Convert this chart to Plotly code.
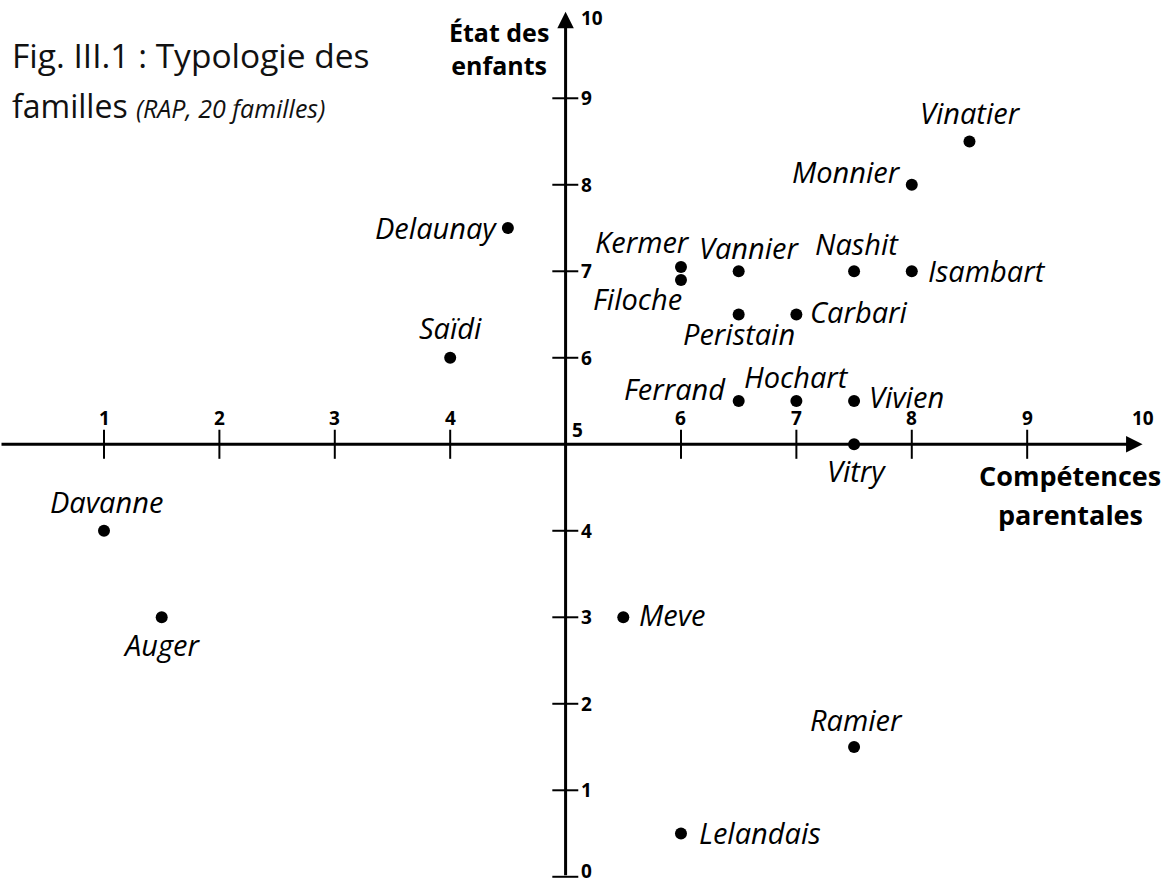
import plotly.graph_objects as go

# ---- data ----
families = ["Vinatier", "Monnier", "Delaunay", "Kermer", "Filoche", "Vannier", "Nashit",
            "Isambart", "Peristain", "Carbari", "Saïdi", "Ferrand", "Hochart", "Vivien",
            "Vitry", "Davanne", "Auger", "Meve", "Ramier", "Lelandais"]
competences = [8.5, 8.0, 4.5, 6.0, 6.0, 6.5, 7.5, 8.0, 6.5, 7.0, 4.0, 6.5, 7.0, 7.5,
               7.5, 1.0, 1.5, 5.5, 7.5, 6.0]
etat = [8.5, 8.0, 7.5, 7.05, 6.9, 7.0, 7.0, 7.0, 6.5, 6.5, 6.0, 5.5, 5.5, 5.5,
        5.0, 4.0, 3.0, 3.0, 1.5, 0.5]
x_ticks = [1, 2, 3, 4, 6, 7, 8, 9]
y_ticks = [0, 1, 2, 3, 4, 6, 7, 8, 9]
x_tick_labels = ["1", "2", "3", "4", "6", "7", "8", "9", "10"]
y_tick_labels = ["0", "1", "2", "3", "4", "6", "7", "8", "9", "10"]

# ---- label placement (anchor, dx px, dy px downward) ----
label_pos = {
    "Vinatier": ("center", 1, -29), "Monnier": ("right", -9, -13),
    "Delaunay": ("right", -9, -1), "Kermer": ("center", -38, -25),
    "Filoche": ("center", -43, 19), "Vannier": ("center", 11, -24),
    "Nashit": ("center", 3, -28), "Isambart": ("left", 14, -1),
    "Peristain": ("center", 0, 19), "Carbari": ("left", 12, -3),
    "Saïdi": ("center", 0, -30), "Ferrand": ("right", -11, -13),
    "Hochart": ("center", 0, -25), "Vivien": ("left", 13, -5),
    "Vitry": ("center", 2, 26), "Davanne": ("center", 2, -29),
    "Auger": ("center", 0, 27), "Meve": ("left", 14, -3),
    "Ramier": ("center", 2, -28), "Lelandais": ("left", 16, -1),
}

FONT = "'Open Sans', 'Noto Sans', sans-serif"
W, H = 1169, 885
XR = [0.0988, 10.229]
YR = [-0.095, 10.136]
ORIGIN = 5

fig = go.Figure()
fig.add_trace(go.Scatter(
    x=competences, y=etat, mode="markers",
    marker=dict(size=12, color="black"),
    hoverinfo="text", text=families, showlegend=False,
))

ann = []
shapes = []

# axes with arrows
ann.append(dict(x=10, y=ORIGIN, ax=XR[0], ay=ORIGIN, xref="x", yref="y", axref="x", ayref="y",
                text="", showarrow=True, arrowhead=2, arrowsize=1.1, arrowwidth=3, arrowcolor="black"))
ann.append(dict(x=ORIGIN, y=10, ax=ORIGIN, ay=0, xref="x", yref="y", axref="x", ayref="y",
                text="", showarrow=True, arrowhead=2, arrowsize=1.1, arrowwidth=3, arrowcolor="black"))

# tick marks
for t in x_ticks:
    shapes.append(dict(type="line", xref="x", yref="y", x0=t, x1=t,
                       y0=ORIGIN - 0.168, y1=ORIGIN + 0.168, line=dict(color="black", width=2)))
for t in y_ticks:
    shapes.append(dict(type="line", xref="x", yref="y", y0=t, y1=t,
                       x0=ORIGIN - 0.115, x1=ORIGIN + 0.11, line=dict(color="black", width=2)))

tick_font = dict(family=FONT, size=19, color="black")
for t, lab in zip(x_ticks + [10], x_tick_labels):
    ann.append(dict(x=t, y=ORIGIN, xref="x", yref="y", text=f"<b>{lab}</b>", showarrow=False,
                    xanchor="center", yanchor="middle", yshift=26, font=tick_font))
for t, lab in zip(y_ticks + [10], y_tick_labels):
    ysh = -6 if t == 10 else (6 if t == 0 else 0)
    ann.append(dict(x=ORIGIN, y=t, xref="x", yref="y", text=f"<b>{lab}</b>", showarrow=False,
                    xanchor="left", yanchor="middle", xshift=13, yshift=ysh,
                    font=tick_font))
# origin label
ann.append(dict(x=ORIGIN, y=ORIGIN, xref="x", yref="y", text="<b>5</b>", showarrow=False,
                xanchor="left", yanchor="middle", xshift=4, yshift=14, font=tick_font))

# point labels
for name, xv, yv in zip(families, competences, etat):
    anchor, dx, dy = label_pos[name]
    ann.append(dict(x=xv, y=yv, xref="x", yref="y", text=f"<i>{name}</i>", showarrow=False,
                    xanchor=anchor, yanchor="middle", xshift=dx, yshift=-dy,
                    font=dict(family=FONT, size=29, color="black")))

# axis titles
ann.append(dict(x=499 / W, y=1 - 48 / H, xref="paper", yref="paper",
                text="<b>État des<br>enfants</b>", showarrow=False, align="center",
                xanchor="center", yanchor="middle",
                font=dict(family=FONT, size=25, color="black")))
for txt, cy in (("Compétences", 475), ("parentales", 514)):
    ann.append(dict(x=1070 / W, y=1 - cy / H, xref="paper", yref="paper",
                    text=f"<b>{txt}</b>", showarrow=False,
                    xanchor="center", yanchor="middle",
                    font=dict(family=FONT, size=27, color="black")))

# title
ann.append(dict(x=10 / W, y=1 - 55 / H, xref="paper", yref="paper",
                text="Fig. III.1 : Typologie des", showarrow=False,
                xanchor="left", yanchor="middle",
                font=dict(family=FONT, size=33.5, color="#111111")))
ann.append(dict(x=10 / W, y=1 - 105 / H, xref="paper", yref="paper",
                text="familles <i><span style='font-size:25px'>(RAP, 20 familles)</span></i>",
                showarrow=False, xanchor="left", yanchor="middle",
                font=dict(family=FONT, size=32, color="#111111")))

fig.update_layout(
    width=W, height=H,
    margin=dict(l=0, r=0, t=0, b=0),
    paper_bgcolor="white", plot_bgcolor="white",
    xaxis=dict(range=XR, visible=False, fixedrange=True),
    yaxis=dict(range=YR, visible=False, fixedrange=True),
    annotations=ann, shapes=shapes,
)

fig.write_html("out.html", config={"displayModeBar": False},
               post_script="document.body.style.margin='0px';document.body.style.overflow='hidden';")
